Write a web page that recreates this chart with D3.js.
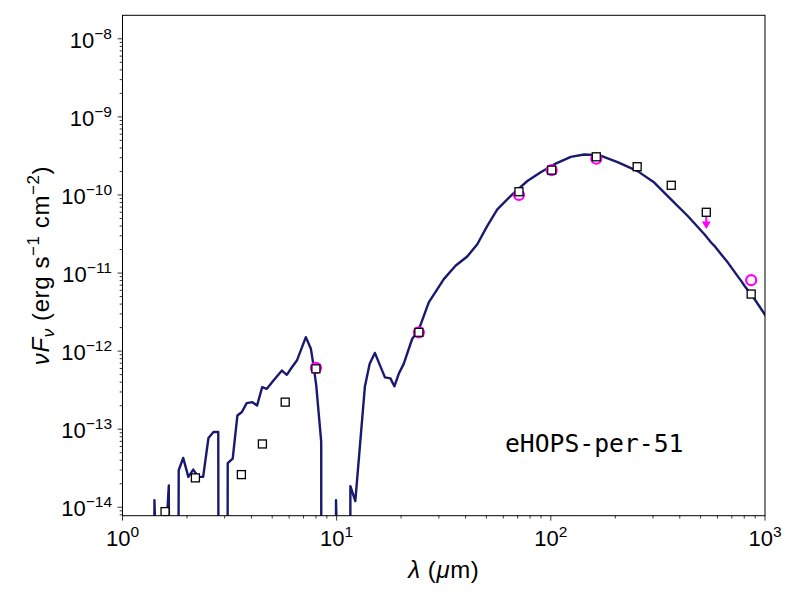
<!DOCTYPE html>
<html><head><meta charset="utf-8">
<script src="https://cdn.jsdelivr.net/npm/d3@7"></script>
<style>body{margin:0;background:#fff}</style>
</head><body><svg id="c" width="800" height="600"></svg>
<script>
// Model SED (wavelength in micron, nuFnu in erg s^-1 cm^-2)
const modelWave = [1.40,1.41,1.48,1.645,1.655,1.82,1.83,1.92,2.03,2.14,2.26,2.38,2.52,2.66,2.80,2.81,
  3.09,3.10,3.27,3.44,3.61,3.80,4.04,4.25,4.49,4.72,5.07,5.55,5.85,6.18,6.52,7.18,7.58,7.80,8.03,8.47,8.48,
  9.91,9.93,10.32,11.57,11.59,12.22,13.54,14.26,15.08,16.80,17.82,18.60,19.49,20.56,22.51,24.16,26.92,31.64,
  35.89,40.71,45.36,50.5,56.25,66.1,77.7,89.7,103.5,123.9,143.0,168.1,204.9,254.2,304.0,364.0,435.8,521.2,
  560.1,580.3,623.7,670.8,733.4,773.9,802.0,893.1,994.8,1046];
const modelFlux = [1e-16,1.23e-14,1e-16,1.9e-14,1e-16,1e-16,2.98e-14,4.29e-14,2.45e-14,3.04e-14,2.45e-14,2.45e-14,7.72e-14,9.2e-14,9.2e-14,1e-16,
  1e-16,3.68e-14,4.2e-14,1.50e-13,1.66e-13,2.16e-13,2.22e-13,2.01e-13,3.46e-13,3.29e-13,4.2e-13,5.64e-13,4.97e-13,6.22e-13,7.57e-13,1.51e-12,1.07e-12,6.53e-13,3.62e-13,6.86e-14,1e-16,
  1e-16,1.23e-14,1e-16,1e-16,1.86e-14,1.20e-14,3.49e-13,6.87e-13,9.49e-13,4.61e-13,4.48e-13,3.54e-13,5.12e-13,6.87e-13,1.43e-12,1.87e-12,4.22e-12,8.36e-12,
  1.24e-11,1.63e-11,2.34e-11,4.01e-11,6.55e-11,1.02e-10,1.51e-10,1.95e-10,2.46e-10,3.08e-10,3.30e-10,3.24e-10,2.63e-10,2.02e-10,1.44e-10,8.79e-11,5.38e-11,3.14e-11,
  2.46e-11,2.23e-11,1.74e-11,1.36e-11,9.68e-12,7.94e-12,6.87e-12,4.65e-12,2.99e-12,2.43e-12];

// Observed photometry (open squares)
const obsWave = [1.58,2.19,3.59,4.50,5.75,8.0,24.2,71,100.9,163,253,365,532,862];
const obsFlux = [8.8e-15,2.38e-14,2.62e-14,6.47e-14,2.22e-13,5.93e-13,1.74e-12,1.10e-10,2.08e-10,3.08e-10,2.30e-10,1.33e-10,6.0e-11,5.38e-12];

// Fitted photometry (magenta circles)
const fitWave = [8.0,24.2,71,100.9,163,862];
const fitFlux = [6.1e-13,1.74e-12,1.0e-10,2.08e-10,2.91e-10,8.1e-12];

// Upper limit arrow
const limitWave = [532];
const limitFlux = [6.0e-11];
const limitTip = [3.66e-11];

const xTicks = [1,10,100,1000];
const xTickExp = ["0","1","2","3"];
const yTicks = [1e-14,1e-13,1e-12,1e-11,1e-10,1e-9,1e-8];
const yTickExp = ["−14","−13","−12","−11","−10","−9","−8"];
const sourceName = "eHOPS-per-51";

const L = 122.5, R = 765, T = 15.3, B = 515.7;
const svg = d3.select("#c");
const x = d3.scaleLog().domain([1,1000]).range([L,R]);
const y = d3.scaleLog().domain([7.8e-15,2.0e-8]).range([B,T]);
const font = "'Liberation Sans', Arial, sans-serif";

svg.append("defs").append("clipPath").attr("id","clip")
  .append("rect").attr("x",L).attr("y",T).attr("width",R-L).attr("height",B-T);

const g = svg.append("g").attr("clip-path","url(#clip)");

const model = modelWave.map((w,i)=>[w,modelFlux[i]]);
g.append("path").datum(model)
  .attr("d", d3.line().x(d=>x(d[0])).y(d=>y(d[1])))
  .attr("fill","none").attr("stroke","#191970").attr("stroke-width",2.4)
  .attr("stroke-linejoin","round");

// upper limit arrow
limitWave.forEach((w,i)=>{
  const px = x(w), y0 = y(limitFlux[i]), y1 = y(limitTip[i]);
  g.append("line").attr("x1",px).attr("x2",px).attr("y1",y0).attr("y2",y1-6)
    .attr("stroke","#ff00ff").attr("stroke-width",2);
  g.append("path").attr("d",`M${px-4.5},${y1-7.5}L${px+4.5},${y1-7.5}L${px},${y1}Z`)
    .attr("fill","#ff00ff");
});

g.selectAll("circle.fit").data(fitWave).enter().append("circle")
  .attr("cx",d=>x(d)).attr("cy",(d,i)=>y(fitFlux[i])).attr("r",5)
  .attr("fill","none").attr("stroke","#ff00ff").attr("stroke-width",2.2);

g.selectAll("rect.obs").data(obsWave).enter().append("rect")
  .attr("x",d=>x(d)-4).attr("y",(d,i)=>y(obsFlux[i])-4).attr("width",8).attr("height",8)
  .attr("fill","#fff").attr("stroke","#000").attr("stroke-width",1.3);

// frame
svg.append("rect").attr("x",L).attr("y",T).attr("width",R-L).attr("height",B-T)
  .attr("fill","none").attr("stroke","#000").attr("stroke-width",1);

// ticks
const tickG = svg.append("g").attr("stroke","#000").attr("stroke-width",0.8);
function minors(lo,hi){const out=[];for(let e=Math.floor(Math.log10(lo));e<=Math.ceil(Math.log10(hi));e++){for(let k=2;k<=9;k++){const v=k*Math.pow(10,e);if(v>lo&&v<hi)out.push(v);}}return out;}
xTicks.forEach(v=>tickG.append("line").attr("x1",x(v)).attr("x2",x(v)).attr("y1",B).attr("y2",B+4.9));
minors(1,1000).forEach(v=>tickG.append("line").attr("x1",x(v)).attr("x2",x(v)).attr("y1",B).attr("y2",B+2.8));
yTicks.forEach(v=>tickG.append("line").attr("y1",y(v)).attr("y2",y(v)).attr("x1",L).attr("x2",L-4.9));
minors(7.8e-15,2.0e-8).forEach(v=>tickG.append("line").attr("y1",y(v)).attr("y2",y(v)).attr("x1",L).attr("x2",L-2.8));

// tick labels
xTicks.forEach((v,i)=>{
  const t = svg.append("text").attr("x",x(v)).attr("y",B+30).attr("text-anchor","middle")
    .attr("font-family",font).attr("font-size",22);
  t.append("tspan").text("10");
  t.append("tspan").attr("dy",-9).attr("font-size",15.5).text(xTickExp[i]);
});
yTicks.forEach((v,i)=>{
  const t = svg.append("text").attr("x",112).attr("y",y(v)+9).attr("text-anchor","end")
    .attr("font-family",font).attr("font-size",22);
  t.append("tspan").text("10");
  t.append("tspan").attr("dy",-9).attr("font-size",15.5).text(yTickExp[i]);
});

// axis labels
const xl = svg.append("text").attr("x",(L+R)/2).attr("y",578).attr("text-anchor","middle")
  .attr("font-family",font).attr("font-size",24).attr("letter-spacing",0.6);
xl.append("tspan").attr("font-style","italic").text("λ");
xl.append("tspan").text(" (");
xl.append("tspan").attr("font-style","italic").text("μ");
xl.append("tspan").text("m)");

const yl = svg.append("text").attr("transform",`translate(49,${(T+B)/2}) rotate(-90)`)
  .attr("text-anchor","middle").attr("font-family",font).attr("font-size",24).attr("letter-spacing",0.6);
yl.append("tspan").attr("font-style","italic").text("νF");
yl.append("tspan").attr("font-style","italic").attr("font-size",17).attr("dy",5).text("ν");
yl.append("tspan").attr("dy",-5).text(" (erg s");
yl.append("tspan").attr("font-size",17).attr("dy",-10).text("−1");
yl.append("tspan").attr("dy",10).text(" cm");
yl.append("tspan").attr("font-size",17).attr("dy",-10).text("−2");
yl.append("tspan").attr("dy",10).text(")");

svg.append("text").attr("x",505).attr("y",452).attr("font-family","'DejaVu Sans Mono', monospace")
  .attr("font-size",24.7).text(sourceName);
</script></body></html>
